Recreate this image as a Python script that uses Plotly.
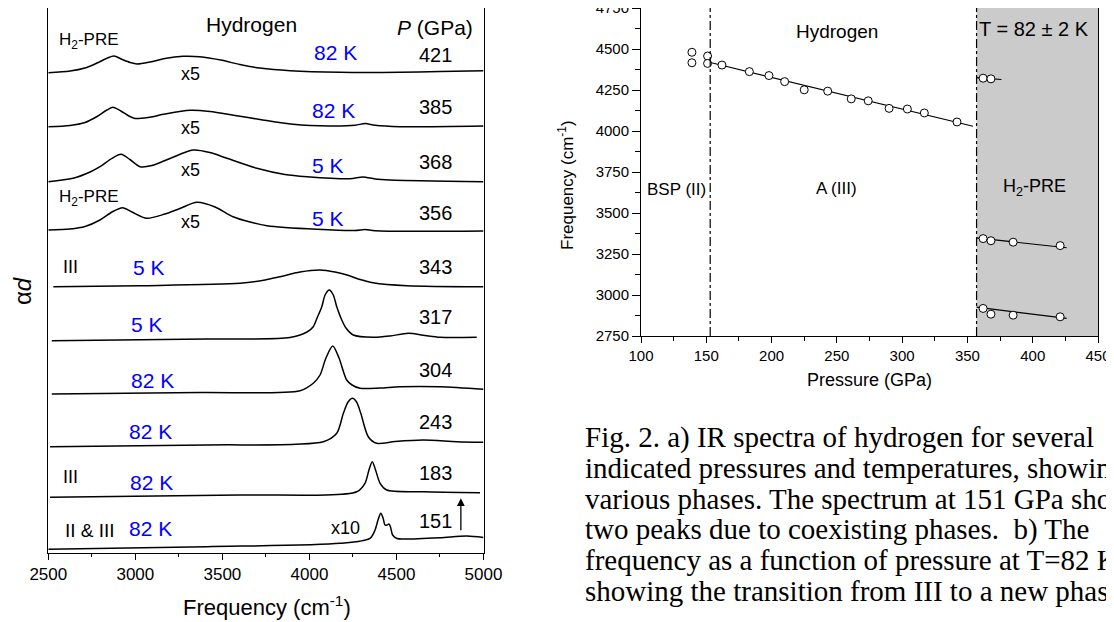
import plotly.graph_objects as go

# ---------------- Left panel: IR spectra (frequency in cm^-1, alpha*d stacked, arb. units) -------------
pressures = ["421", "385", "368", "356", "343", "317", "304", "243", "183", "151"]
temps = ["82 K", "82 K", "5 K", "5 K", "5 K", "5 K", "82 K", "82 K", "82 K", "82 K"]

f421 = [2500, 2625, 2710, 2780, 2840, 2877, 2925, 2970, 3010, 3085, 3170, 3275, 3370, 3490, 3600, 3715, 3890, 4175, 4520, 4750, 5000]
a421 = [480.3, 482.0, 485.0, 490.0, 495.0, 497.0, 493.5, 490.5, 489.0, 491.0, 494.5, 496.7, 496.3, 493.0, 488.5, 485.0, 482.3, 480.7, 480.7, 481.5, 482.3]

f385 = [2500, 2625, 2711, 2780, 2837, 2871, 2917, 2963, 2998, 3073, 3170, 3314, 3429, 3573, 3716, 3906, 4118, 4262, 4320, 4377, 4521, 5000]
a385 = [426.3, 427.5, 430.5, 436.5, 443.0, 445.7, 442.0, 437.0, 434.5, 435.5, 439.0, 442.7, 441.5, 437.5, 433.5, 428.7, 427.0, 427.7, 429.5, 427.7, 426.3, 427.0]

f368 = [2500, 2642, 2740, 2797, 2866, 2918, 2969, 3027, 3096, 3199, 3331, 3429, 3526, 3698, 3859, 3986, 4233, 4308, 4377, 4463, 5000]
a368 = [371.3, 374.7, 381.0, 386.3, 394.7, 398.7, 393.5, 386.3, 387.5, 394.5, 403.0, 400.5, 394.7, 384.7, 378.5, 376.3, 374.3, 376.0, 374.0, 373.0, 371.3]

f356 = [2500, 2625, 2711, 2797, 2866, 2927, 2981, 3065, 3170, 3256, 3354, 3458, 3561, 3659, 3756, 4043, 4262, 4320, 4377, 5000]
a356 = [323.0, 324.0, 326.5, 333.0, 341.0, 345.3, 341.0, 334.7, 339.0, 344.5, 350.7, 346.0, 336.3, 331.0, 327.3, 323.7, 322.5, 323.5, 322.2, 322.0]

f343 = [2529, 3027, 3601, 3745, 3831, 3946, 4061, 4147, 4216, 4291, 4365, 4560, 5000]
a343 = [266.3, 267.3, 269.7, 273.0, 276.3, 281.0, 283.0, 281.0, 278.0, 273.5, 270.3, 267.3, 266.3]

f317 = [2520, 3410, 3888, 3986, 4022, 4044, 4071, 4090, 4114, 4137, 4157, 4186, 4210, 4252, 4367, 4463, 4568, 4664, 4750, 4961]
a317 = [212.3, 214.0, 215.5, 221.0, 226.3, 235.0, 246.3, 258.0, 263.0, 258.0, 246.3, 233.0, 225.0, 218.0, 215.7, 217.0, 219.7, 217.5, 215.7, 215.7]

f304 = [2520, 3372, 3946, 4022, 4061, 4095, 4134, 4170, 4214, 4245, 4291, 4406, 4520, 4750, 5000]
a304 = [159.0, 160.5, 162.3, 169.7, 178.0, 195.0, 207.0, 195.0, 173.0, 168.0, 164.7, 165.0, 166.3, 166.3, 163.7]

f243 = [2510, 3410, 4080, 4157, 4195, 4222, 4247, 4271, 4295, 4338, 4387, 4492, 4654, 4846, 5000]
a243 = [106.3, 108.0, 111.3, 119.7, 139.7, 151.0, 154.7, 151.0, 139.7, 116.3, 109.7, 111.5, 113.0, 111.3, 110.7]

f183 = [2510, 3601, 4272, 4319, 4342, 4361, 4380, 4406, 4444, 4654, 4980]
a183 = [55.7, 58.0, 61.3, 69.7, 83.0, 91.3, 83.0, 69.7, 63.0, 61.3, 60.3]

f151 = [2500, 3410, 4176, 4348, 4377, 4394, 4410, 4423, 4434, 4446, 4457, 4466, 4478, 4503, 4539, 4750, 4904, 5000]
a151 = [3.7, 6.3, 9.7, 14.7, 23.0, 33.0, 39.7, 35.0, 28.0, 28.0, 29.0, 26.0, 18.0, 14.5, 14.0, 15.3, 17.0, 15.5]

spectra_f = [f421, f385, f368, f356, f343, f317, f304, f243, f183, f151]
spectra_a = [a421, a385, a368, a356, a343, a317, a304, a243, a183, a151]

# ---------------- Right panel: vibron frequency vs pressure at 82 K -------------
p_bsp = [139, 139, 151, 151]
f_bsp = [4480, 4416, 4457, 4412]
p_a3 = [162, 183, 198, 210, 225, 243, 261, 274, 290, 304, 317, 342]
f_a3 = [4402, 4362, 4338, 4301, 4251, 4243, 4196, 4184, 4138, 4134, 4110, 4055]
p_pre1 = [362, 368]
f_pre1 = [4322, 4318]
p_pre2 = [362, 368, 385, 421]
f_pre2 = [3344, 3331, 3322, 3301]
p_pre3 = [362, 368, 385, 421]
f_pre3 = [2918, 2883, 2877, 2867]
# linear fits (end points)
fit_a3_p, fit_a3_f = [152.4, 354.3], [4419, 4029]
fit_pre1_p, fit_pre1_f = [357, 376], [4326, 4314]
fit_pre2_p, fit_pre2_f = [357, 426], [3348, 3288]
fit_pre3_p, fit_pre3_f = [357, 426], [2926, 2857]
phase_bounds = [153, 357]

# page offset (browser body margin) compensated: figure drawn 8 px in from top-left
OFF = 8
W, H = 1114 - OFF, 622 - OFF
SANS = "Liberation Sans, Arial, sans-serif"
SERIF = "Liberation Serif, Times New Roman, serif"
BLUE = "#0000ff"

fig = go.Figure()

# spectra
for f, a in zip(spectra_f, spectra_a):
    fig.add_trace(go.Scatter(x=f, y=a, mode="lines", xaxis="x", yaxis="y",
                             line=dict(color="black", width=1.5, shape="spline", smoothing=0.8),
                             showlegend=False, hoverinfo="skip"))

# fits
for fp, ff in [(fit_a3_p, fit_a3_f), (fit_pre1_p, fit_pre1_f), (fit_pre2_p, fit_pre2_f), (fit_pre3_p, fit_pre3_f)]:
    fig.add_trace(go.Scatter(x=fp, y=ff, mode="lines", xaxis="x2", yaxis="y2",
                             line=dict(color="black", width=1.2), showlegend=False))
# points
for pp, fq in [(p_bsp, f_bsp), (p_a3, f_a3), (p_pre1, f_pre1), (p_pre2, f_pre2), (p_pre3, f_pre3)]:
    fig.add_trace(go.Scatter(x=pp, y=fq, mode="markers", xaxis="x2", yaxis="y2",
                             marker=dict(symbol="circle", size=8, color="white",
                                         line=dict(color="black", width=1)),
                             showlegend=False))

# domains (pixel based, in window pixels)
def px_x(px):
    return min(max((px - OFF) / W, 0.0), 1.0)

def px_y(py):
    return min(max(1 - (py - OFF) / H, 0.0), 1.0)

lx0, lx1, ly_top, ly_bot = 48.3, 483.5, 7.3, 553
rx0, rx1, ry_top, ry_bot = 641, 1098, 6, 336

axis_common = dict(showgrid=False, zeroline=False, showline=True, linecolor="black", linewidth=1,
                   mirror=True, ticks="outside", tickcolor="black", color="black", automargin=False,
                   ticklabeloverflow="allow")

fig.update_layout(
    width=W, height=H, margin=dict(l=0, r=0, t=0, b=0, autoexpand=False),
    paper_bgcolor="white", plot_bgcolor="white",
    font=dict(family=SANS, color="black"),
    xaxis=dict(domain=[px_x(lx0), px_x(lx1)], range=[2500, 5000], anchor="y",
               tickmode="linear", tick0=2500, dtick=500, ticklen=6,
               tickfont=dict(size=17), minor=dict(dtick=250, ticklen=3, ticks="outside", tickcolor="black"),
               **axis_common),
    yaxis=dict(domain=[px_y(ly_bot), px_y(ly_top)], range=[0, ly_bot - OFF], anchor="x",
               showticklabels=False, showgrid=False, zeroline=False, showline=True,
               linecolor="black", linewidth=1, mirror=True, ticks="", automargin=False),
    xaxis2=dict(domain=[px_x(rx0), px_x(rx1)], range=[100, 450], anchor="y2",
                tickmode="linear", tick0=100, dtick=50, ticklen=6,
                tickfont=dict(size=15), minor=dict(dtick=25, ticklen=4, ticks="outside", tickcolor="black"),
                **axis_common),
    yaxis2=dict(domain=[px_y(ry_bot), px_y(ry_top)], range=[2750, 4750], anchor="x2",
                tickmode="linear", tick0=2750, dtick=250, ticklen=8,
                tickfont=dict(size=15), minor=dict(dtick=125, ticklen=5, ticks="outside", tickcolor="black"),
                **axis_common),
)

# shaded H2-PRE region and phase boundaries
fig.add_shape(type="rect", xref="x2", yref="y2", x0=phase_bounds[1], x1=450, y0=2750, y1=4750,
              fillcolor="#cbcbcb", line=dict(width=0), layer="below")
for pb in phase_bounds:
    fig.add_shape(type="line", xref="x2", yref="y2", x0=pb, x1=pb, y0=2750, y1=4750,
                  line=dict(color="black", width=1.2, dash="dashdot"))

ann = []

def A(x, y, text, size=20, color="black", xanchor="center", xref="x", yref="y", **kw):
    ann.append(dict(x=x, y=y, xref=xref, yref=yref, text=text, showarrow=False,
                    xanchor=xanchor, yanchor="middle",
                    font=dict(size=size, color=color, family=kw.pop("family", SANS)), **kw))

# left panel labels
A(3669, 529, "Hydrogen", size=21)
A(4719, 526, "<i>P</i> (GPa)", size=21)
A(2550, 512.3, "H<sub>2</sub>-PRE", size=17, xanchor="left")
A(2550, 354.7, "H<sub>2</sub>-PRE", size=17, xanchor="left")
temp_pos = [(4147, 500.3), (4136, 443), (4107, 387.3), (4107, 334.7), (3079, 285.7),
            (3065, 229), (3097, 173), (3088, 121.3), (3094, 70.3), (3088, 24.7)]
press_pos = [498, 445.7, 390.7, 340.3, 286.3, 235.7, 183, 130.7, 79.7, 32.3]
for (tx, ty), t, p, py_ in zip(temp_pos, temps, pressures, press_pos):
    A(tx, ty, t, size=21, color=BLUE)
    A(4725, py_, p, size=20)
for y_ in [479, 424.7, 383, 330.7]:
    A(3316, y_, "x5", size=18)
A(4205, 25.3, "x10", size=18)
A(2625, 286.3, "III", size=18)
A(2625, 76.3, "III", size=18)
A(2738, 23, "II &amp; III", size=19)
ann.append(dict(x=4870, y=54.7, ax=4870, ay=21.3, xref="x", yref="y", axref="x", ayref="y",
                text="", showarrow=True, arrowhead=2, arrowsize=1.2, arrowwidth=1.3, arrowcolor="black"))

# axis titles (left)
A(px_x(266.5), px_y(606), "Frequency (cm<sup>-1</sup>)", size=22, xref="paper", yref="paper")
A(px_x(22), px_y(291), "α<i>d</i>", size=24, xref="paper", yref="paper", textangle=-90)

# right panel labels
A(250, 4604, "Hydrogen", size=19, xref="x2", yref="y2")
A(401, 4625, "T = 82 ± 2 K", size=20, xref="x2", yref="y2")
A(127, 3645, "BSP (II)", size=17, xref="x2", yref="y2")
A(250, 3650, "A (III)", size=17, xref="x2", yref="y2")
A(401, 3655, "H<sub>2</sub>-PRE", size=18, xref="x2", yref="y2")
A(px_x(566), px_y(185), "Frequency (cm<sup>-1</sup>)", size=17, xref="paper", yref="paper", textangle=-90)
A(px_x(869), px_y(380), "Pressure (GPa)", size=18, xref="paper", yref="paper")

# caption
caption = [
    "Fig. 2. a) IR spectra of hydrogen for several",
    "indicated pressures and temperatures, showing",
    "various phases. The spectrum at 151 GPa shows",
    "two peaks due to coexisting phases.  b) The",
    "frequency as a function of pressure at T=82 K,",
    "showing the transition from III to a new phase",
]
cap_y = [437, 468, 499, 529, 560, 591]
for line, cy in zip(caption, cap_y):
    A(px_x(583), px_y(cy), line, size=29, xanchor="left", xref="paper", yref="paper", family=SERIF)

fig.update_layout(annotations=ann)
fig.write_html("out.html")
